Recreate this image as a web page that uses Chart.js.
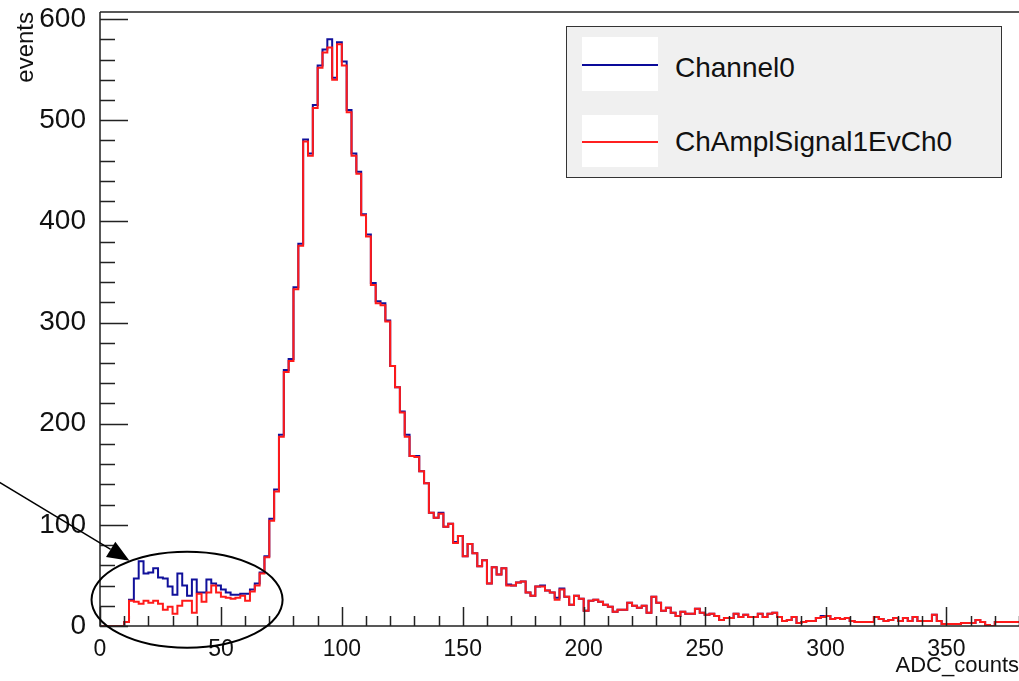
<!DOCTYPE html>
<html>
<head>
<meta charset="utf-8">
<script src="https://cdn.jsdelivr.net/npm/chart.js@4"></script>
<style>
    html, body { margin: 0; padding: 0; background: #fff; }
    #wrap { position: relative; width: 1019px; height: 681px; }
    #legend {
        position: absolute; left: 566px; top: 26px; width: 436px; height: 152px;
        background: #f0f0f0; border: 1.5px solid #333; box-sizing: border-box;
        font-family: "Liberation Sans", Arial, sans-serif; font-size: 28px; color: #111;
    }
    .swatch { position: absolute; left: 15px; width: 76px; background: #fff; }
    .swatch span { position: absolute; left: 0; width: 76px; height: 2px; }
    .lbl { position: absolute; left: 108px; line-height: 32px; white-space: nowrap; }
</style>
</head>
<body>
<div id="wrap">
    <canvas id="hist-chart" width="1019" height="681"></canvas>
    <div id="legend">
        <div class="swatch" style="top:10px;height:54px"><span style="top:27px;background:#0a0a9a"></span></div>
        <div class="lbl" style="top:25px">Channel0</div>
        <div class="swatch" style="top:88px;height:52px"><span style="top:26px;background:#ff2020"></span></div>
        <div class="lbl" style="top:99px">ChAmplSignal1EvCh0</div>
    </div>
</div>
<script>
// ADC histogram, bins of 2 counts from 0 to 380

const binWidth = 2;

// ChAmplSignal1EvCh0 (red)
const ampCounts = [
    0, 0, 0, 0, 0, 0, 4, 25, 24, 22,
    25, 23, 25, 22, 16, 19, 12, 20, 25, 25,
    13, 32, 24, 33, 40, 33, 29, 28, 27, 28,
    30, 25, 34, 40, 52, 68, 104, 133, 187, 251,
    262, 333, 376, 479, 465, 512, 552, 567, 572, 540,
    575, 554, 508, 465, 447, 406, 385, 337, 319, 317,
    301, 257, 236, 211, 187, 168, 167, 153, 141, 112,
    107, 111, 98, 101, 82, 89, 69, 81, 72, 59,
    65, 42, 58, 51, 57, 40, 40, 43, 44, 33,
    30, 39, 39, 35, 33, 26, 36, 29, 21, 30,
    27, 15, 25, 26, 24, 21, 19, 14, 16, 16,
    23, 20, 18, 20, 13, 29, 23, 15, 18, 13,
    10, 14, 12, 12, 17, 13, 11, 12, 10, 6,
    8, 8, 12, 9, 11, 9, 9, 12, 9, 12,
    13, 9, 5, 6, 9, 3, 4, 5, 5, 8,
    9, 10, 7, 8, 7, 8, 5, 4, 4, 4,
    4, 9, 7, 5, 6, 8, 5, 8, 5, 9,
    5, 5, 5, 11, 5, 2, 2, 2, 2, 3,
    3, 3, 6, 4, 1, 0, 4, 4, 4, 4
];

// Channel0 (blue)
const channelCounts = [
    0, 0, 0, 0, 0, 0, 4, 26, 47, 64,
    52, 53, 57, 48, 47, 39, 31, 52, 40, 30,
    46, 33, 33, 46, 42, 40, 36, 33, 31, 31,
    32, 32, 36, 42, 53, 69, 106, 135, 189, 253,
    264, 335, 378, 481, 467, 515, 554, 570, 580, 542,
    577, 558, 510, 467, 449, 407, 387, 339, 321, 319,
    302, 257, 236, 212, 189, 168, 168, 153, 141, 112,
    107, 112, 98, 101, 83, 89, 69, 81, 72, 59,
    65, 42, 58, 51, 57, 41, 40, 43, 44, 33,
    30, 39, 40, 35, 33, 28, 37, 29, 21, 30,
    27, 15, 25, 26, 24, 21, 19, 14, 16, 16,
    23, 20, 18, 20, 13, 29, 23, 15, 18, 13,
    10, 14, 12, 12, 17, 13, 11, 12, 10, 6,
    8, 8, 12, 9, 11, 9, 9, 12, 9, 12,
    13, 9, 5, 6, 9, 3, 4, 5, 5, 8,
    10, 10, 7, 8, 7, 8, 5, 4, 4, 4,
    4, 9, 7, 5, 6, 8, 5, 8, 5, 9,
    5, 5, 5, 11, 5, 2, 2, 2, 2, 3,
    3, 3, 6, 4, 1, 0, 4, 4, 4, 4
];

const xTickValues = [0, 50, 100, 150, 200, 250, 300, 350];
const yTickValues = [0, 100, 200, 300, 400, 500, 600];
const xRange = [0, 380];
const yRange = [0, 607];

// circled low-amplitude region and pointer arrow (data units)
const ellipseMark = { x: 36, y: 26, rx: 39.5, ry: 47.5 };
const arrowMark = { fromX: -41.5, fromY: 142, toX: 12.2, toY: 64.5 };

function toSteps(counts) {
    const pts = counts.map((c, i) => ({ x: i * binWidth, y: c }));
    pts.push({ x: counts.length * binWidth, y: counts[counts.length - 1] });
    return pts;
}

// ROOT style frame with inward ticks, plus the annotation
const frameAndMarks = {
    id: 'frameAndMarks',
    afterDatasetsDraw(chart) {
        const { ctx, chartArea: a, scales: { x, y } } = chart;
        ctx.save();
        ctx.strokeStyle = '#222';
        ctx.lineWidth = 1.5;

        ctx.beginPath();
        ctx.moveTo(a.left, a.top);
        ctx.lineTo(a.right, a.top);
        ctx.moveTo(a.left, a.top);
        ctx.lineTo(a.left, a.bottom);
        ctx.lineTo(a.right, a.bottom);
        ctx.stroke();

        ctx.beginPath();
        for (let v = xRange[0]; v <= xRange[1]; v += 10) {
            const px = Math.round(x.getPixelForValue(v)) + 0.5;
            const len = v % 50 === 0 ? 19 : 10;
            ctx.moveTo(px, a.bottom);
            ctx.lineTo(px, a.bottom - len);
        }
        for (let v = 0; v <= yRange[1]; v += 20) {
            const py = Math.round(y.getPixelForValue(v)) + 0.5;
            const len = v % 100 === 0 ? 28 : 15;
            ctx.moveTo(a.left, py);
            ctx.lineTo(a.left + len, py);
        }
        ctx.stroke();

        // ellipse
        const cx = x.getPixelForValue(ellipseMark.x);
        const cy = y.getPixelForValue(ellipseMark.y);
        const rx = x.getPixelForValue(ellipseMark.x + ellipseMark.rx) - cx;
        const ry = cy - y.getPixelForValue(ellipseMark.y + ellipseMark.ry);
        ctx.strokeStyle = '#000';
        ctx.lineWidth = 2;
        ctx.beginPath();
        ctx.ellipse(cx, cy, rx, ry, 0, 0, Math.PI * 2);
        ctx.stroke();

        // arrow
        const x0 = x.getPixelForValue(arrowMark.fromX);
        const y0 = y.getPixelForValue(arrowMark.fromY);
        const x1 = x.getPixelForValue(arrowMark.toX);
        const y1 = y.getPixelForValue(arrowMark.toY);
        const ang = Math.atan2(y1 - y0, x1 - x0);
        const head = 22, half = 9;
        const bx = x1 - head * Math.cos(ang);
        const by = y1 - head * Math.sin(ang);
        ctx.lineWidth = 1.5;
        ctx.beginPath();
        ctx.moveTo(x0, y0);
        ctx.lineTo(bx, by);
        ctx.stroke();
        ctx.fillStyle = '#000';
        ctx.beginPath();
        ctx.moveTo(x1, y1);
        ctx.lineTo(bx + half * Math.sin(ang), by - half * Math.cos(ang));
        ctx.lineTo(bx - half * Math.sin(ang), by + half * Math.cos(ang));
        ctx.closePath();
        ctx.fill();
        ctx.restore();
    }
};

const ctx = document.getElementById('hist-chart').getContext('2d');

const histChart = new Chart(ctx, {
    type: 'line',
    data: {
        datasets: [
            {
                label: 'ChAmplSignal1EvCh0',
                data: toSteps(ampCounts),
                borderColor: '#ff1a1a',
                borderWidth: 2,
                stepped: 'after',
                pointRadius: 0,
                fill: false,
                order: 0
            },
            {
                label: 'Channel0',
                data: toSteps(channelCounts),
                borderColor: '#10109a',
                borderWidth: 2,
                stepped: 'after',
                pointRadius: 0,
                fill: false,
                order: 1
            }
        ]
    },
    options: {
        responsive: false,
        animation: false,
        layout: { padding: { top: 12, right: 0, left: 0, bottom: 0 } },
        plugins: {
            legend: { display: false },
            tooltip: { enabled: false }
        },
        scales: {
            x: {
                type: 'linear',
                min: xRange[0],
                max: xRange[1],
                grid: { display: false },
                border: { display: false },
                afterBuildTicks: scale => { scale.ticks = xTickValues.map(v => ({ value: v })); },
                afterFit: scale => {
                    scale.height = 55;
                    scale.paddingLeft = 0;
                    scale.paddingRight = 0;
                },
                ticks: {
                    color: '#111',
                    padding: 2,
                    maxRotation: 0,
                    autoSkip: false,
                    font: { family: 'Liberation Sans', size: 23 }
                },
                title: {
                    display: true,
                    text: 'ADC_counts',
                    align: 'end',
                    color: '#111',
                    padding: { top: 0, bottom: 2 },
                    font: { family: 'Liberation Sans', size: 22 }
                }
            },
            y: {
                min: yRange[0],
                max: yRange[1],
                grid: { display: false },
                border: { display: false },
                afterBuildTicks: scale => { scale.ticks = yTickValues.map(v => ({ value: v })); },
                afterFit: scale => {
                    scale.width = 100;
                    scale.paddingTop = 0;
                    scale.paddingBottom = 0;
                },
                ticks: {
                    color: '#111',
                    padding: 6,
                    font: { family: 'Liberation Sans', size: 28 }
                },
                title: {
                    display: true,
                    text: 'events',
                    align: 'end',
                    color: '#111',
                    padding: { top: 12, bottom: 0 },
                    font: { family: 'Liberation Sans', size: 24 }
                }
            }
        }
    },
    plugins: [frameAndMarks]
});
</script>
</body>
</html>
